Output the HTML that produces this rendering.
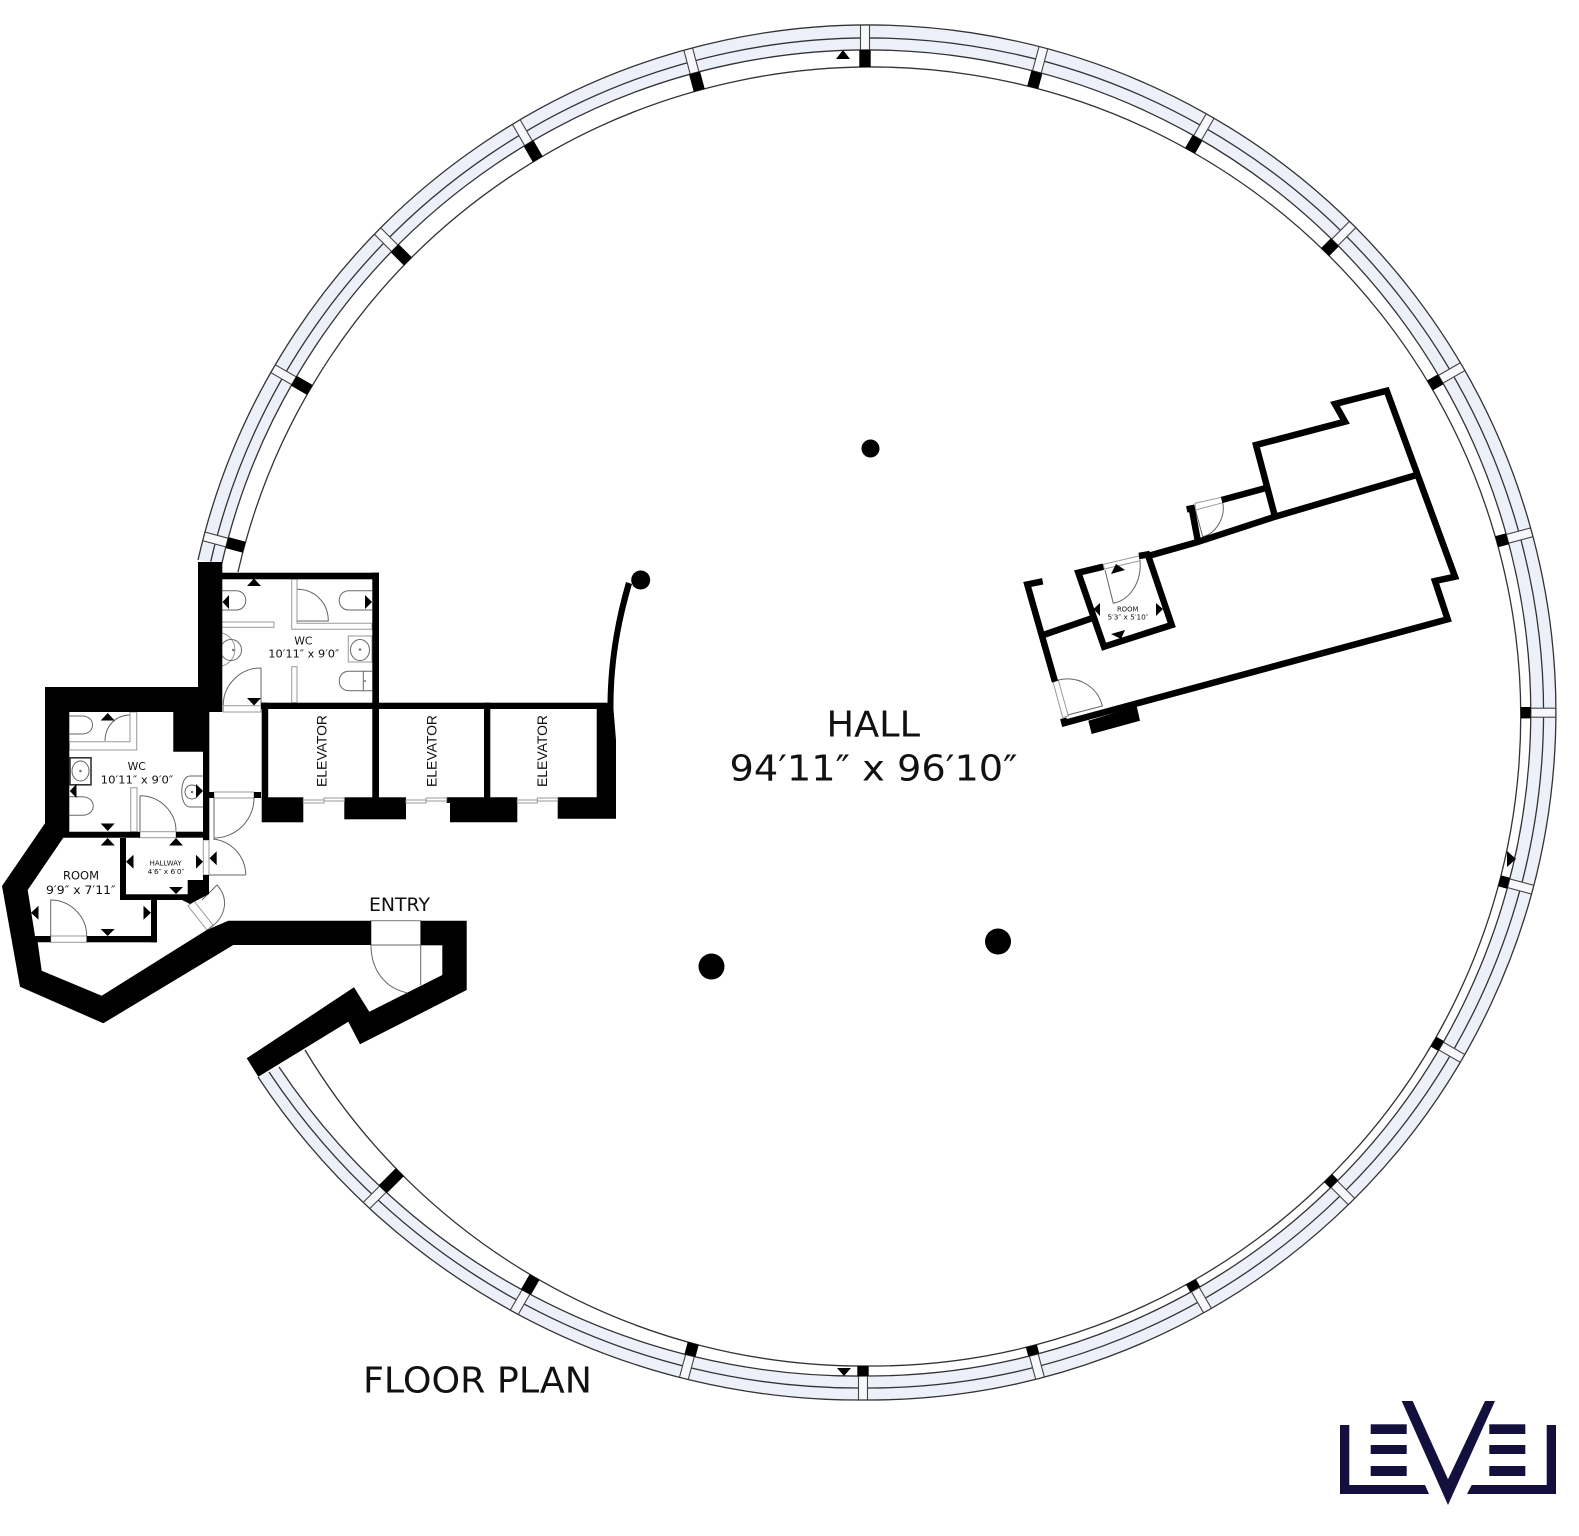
<!DOCTYPE html>
<html lang="en">
<head>
<meta charset="utf-8">
<title>Floor Plan</title>
<style>
html,body{margin:0;padding:0;background:#fff;}
svg{display:block;}
text{font-family:"DejaVu Sans","Liberation Sans",sans-serif;fill:#111;}
.el{font-family:"Liberation Sans",sans-serif;font-size:13.5px;}
.ln{fill:none;stroke:#333;stroke-width:1.3;}
.g{fill:#fff;stroke:#999;stroke-width:1;}
.gb{fill:#fff;stroke:#999;stroke-width:1;}
.d{fill:none;stroke:#666;stroke-width:1;}
.w{fill:none;stroke:#000;stroke-width:6.5;stroke-linejoin:miter;}
</style>
</head>
<body>
<svg xmlns="http://www.w3.org/2000/svg" width="1579" height="1536" viewBox="0 0 1579 1536">
<defs>
<clipPath id="ringClip"><path d="M198,560 A687.5,687.5 0 1 1 865,1400 A720,720 0 0 1 258,1077 L279,1067 A696,696 0 0 0 865,1376 A663,663 0 1 0 221.7,564 Z"/></clipPath>
<clipPath id="bandClip"><path d="M221.7,564 A663,663 0 1 1 865,1376 A696,696 0 0 1 279,1067 L305,1050 A650,650 0 0 0 865,1366 A649.5,649.5 0 1 0 238,572 Z"/></clipPath>
<rect id="win" x="-4.5" y="-60" width="9" height="70" fill="#f8f8fc" stroke="#444" stroke-width="1.1"/>
<rect id="pier" x="-5.7" y="-30" width="11.4" height="60" fill="#000"/>
</defs>
<rect width="1579" height="1536" fill="#fff"/>

<!-- ring -->
<path d="M198,560 A687.5,687.5 0 1 1 865,1400 A720,720 0 0 1 258,1077 L279,1067 A696,696 0 0 0 865,1376 A663,663 0 1 0 221.7,564 Z" fill="#eef0f9"/>
<path class="ln" d="M210.7,561.7 A675,675 0 1 1 865,1388 A708,708 0 0 1 269,1072"/>

<!-- windows -->
<g clip-path="url(#ringClip)">
<use href="#win" transform="translate(865 58)"/>
<use href="#win" transform="translate(697 82) rotate(-15)"/>
<use href="#win" transform="translate(1035 79) rotate(15)"/>
<use href="#win" transform="translate(1194 144) rotate(30)"/>
<use href="#win" transform="translate(1330.4 246.8) rotate(45)"/>
<use href="#win" transform="translate(1436 382) rotate(60)"/>
<use href="#win" transform="translate(1503 540) rotate(75)"/>
<use href="#win" transform="translate(1526 712.7) rotate(90)"/>
<use href="#win" transform="translate(1504 882) rotate(105)"/>
<use href="#win" transform="translate(1437.6 1044) rotate(120)"/>
<use href="#win" transform="translate(1331 1181) rotate(135)"/>
<use href="#win" transform="translate(1193 1285.5) rotate(150)"/>
<use href="#win" transform="translate(1033 1352) rotate(165)"/>
<use href="#win" transform="translate(863 1372) rotate(180)"/>
<use href="#win" transform="translate(692 1348) rotate(195)"/>
<use href="#win" transform="translate(530 1285) rotate(210)"/>
<use href="#win" transform="translate(390 1182) rotate(225)"/>
<use href="#win" transform="translate(236 545) rotate(-75)"/>
<use href="#win" transform="translate(303 386) rotate(-60)"/>
<use href="#win" transform="translate(402.5 256) rotate(-45)"/>
<use href="#win" transform="translate(533 151) rotate(-30)"/>
</g>

<path class="ln" d="M198,560 A687.5,687.5 0 1 1 865,1400 A720,720 0 0 1 258,1077"/>
<path class="ln" d="M221.7,564 A663,663 0 1 1 865,1376 A696,696 0 0 1 279,1067"/>
<path class="ln" d="M238,572 A649.5,649.5 0 1 1 865,1366 A650,650 0 0 1 305,1050"/>

<!-- piers -->
<g clip-path="url(#bandClip)">
<use href="#pier" transform="translate(865 58)"/>
<use href="#pier" transform="translate(697 82) rotate(-15)"/>
<use href="#pier" transform="translate(1035 79) rotate(15)"/>
<use href="#pier" transform="translate(1194 144) rotate(30)"/>
<use href="#pier" transform="translate(1330.4 246.8) rotate(45)"/>
<use href="#pier" transform="translate(1436 382) rotate(60)"/>
<use href="#pier" transform="translate(1503 540) rotate(75)"/>
<use href="#pier" transform="translate(1526 712.7) rotate(90)"/>
<use href="#pier" transform="translate(1504 882) rotate(105)"/>
<use href="#pier" transform="translate(1437.6 1044) rotate(120)"/>
<use href="#pier" transform="translate(1331 1181) rotate(135)"/>
<use href="#pier" transform="translate(1193 1285.5) rotate(150)"/>
<use href="#pier" transform="translate(1033 1352) rotate(165)"/>
<use href="#pier" transform="translate(863 1372) rotate(180)"/>
<use href="#pier" transform="translate(692 1348) rotate(195)"/>
<use href="#pier" transform="translate(530 1285) rotate(210)"/>
<use href="#pier" transform="translate(390 1182) rotate(225)"/>
<use href="#pier" transform="translate(236 545) rotate(-75)"/>
<use href="#pier" transform="translate(303 386) rotate(-60)"/>
<use href="#pier" transform="translate(402.5 256) rotate(-45)"/>
<use href="#pier" transform="translate(533 151) rotate(-30)"/>
</g>

<g fill="#000">
<polygon points="836,59 850,59 843,50"/>
<polygon points="837,1368 851,1368 844,1376"/>
<polygon points="1507,851 1516,859 1507,867"/>
</g>

<!-- fixtures: upper WC -->
<g>
<rect class="gb" x="220.3" y="622" width="53.7" height="5.3"/>
<path class="gb" d="M291.7,579 H297 V623.3 H372 V629.3 H291.7 Z"/>
<path class="d" d="M297,589.3 C315,589.3 328.3,603 328.3,621 H297"/>
<rect class="gb" x="291.7" y="666.7" width="5.3" height="36"/>
<path class="d" d="M222,590.7 H236 C249,590.7 249,610 236,610 H222"/>
<path class="d" d="M372,590.7 H349 C336,590.7 336,610 349,610 H372"/>
<path class="d" d="M372,671.3 H349 C336,671.3 336,690.7 349,690.7 H372 M363.3,671.3 V690.7"/>
<circle cx="365" cy="681" r="1" fill="#777"/>
<path class="g" d="M222,633 A17,17 0 0 1 222,666"/>
<circle cx="231" cy="650" r="10.5" class="d"/>
<circle cx="233.3" cy="650" r="1.3" fill="#777"/>
<rect class="g" x="348.3" y="636" width="23.7" height="26"/>
<ellipse cx="360" cy="650" rx="9.5" ry="10.5" class="d"/>
<circle cx="360" cy="649.5" r="1.3" fill="#777"/>
<path class="d" d="M261,668 V705 M261,668 C240,668 223.3,685 223.3,705"/>
<rect class="gb" x="223.3" y="705.7" width="37.7" height="6.3"/>
</g>

<!-- fixtures: lower WC -->
<g>
<path class="d" d="M69.3,716 H82 C96,716 96,734 82,734 H69.3"/>
<path class="gb" d="M130,712 H136.7 V750 H69.3 V741.7 H130 Z"/>
<path class="d" d="M105,741 C105,727 115,715 130,715"/>
<rect x="70" y="757.8" width="21" height="27" fill="#fff" stroke="#333" stroke-width="1.6"/>
<ellipse cx="80.5" cy="771" rx="8.5" ry="10" class="d"/>
<circle cx="80.5" cy="771" r="1.3" fill="#777"/>
<path class="d" d="M69.3,796.7 H82 C97,796.7 97,815.3 82,815.3 H69.3"/>
<rect class="gb" x="130.7" y="787.7" width="6.3" height="44"/>
<path class="d" d="M140,795.7 V831 M140,795.7 C160,795.7 176,812 176,831"/>
<rect class="gb" x="140" y="831.7" width="36" height="6"/>
<path class="d" d="M203,776 H190 C179,776 179,807 190,807 H203"/>
<circle cx="192" cy="792" r="7" class="d"/>
<circle cx="192" cy="792" r="1.3" fill="#777"/>
</g>

<!-- doors near hall -->
<g>
<rect class="gb" x="214" y="792" width="40" height="6"/>
<path class="d" d="M254,798 A40,40 0 0 1 214,838 M214,798 V838"/>
<rect class="gb" x="203.3" y="840" width="5.7" height="35"/>
<path class="d" d="M209,875 H245.7 M213,839 C231,841 245.7,856 245.7,875"/>
<polygon class="gb" points="188,906 194,901 213,925 207,930"/>
<path class="d" d="M202,900 L217,885 C228,897 228,915 210,928"/>
<!-- room door -->
<rect class="gb" x="50.7" y="936" width="36" height="6.3"/>
<path class="d" d="M50.7,936 V900 C70,900 86.7,916 86.7,936"/>
<!-- entry door -->
<rect x="371" y="920.7" width="49.7" height="24.3" fill="#fff" stroke="#777" stroke-width="1"/>
<path class="d" d="M371,945 H442 M420.7,945 V985 M371,945 C371,970 385,988 406.7,992.7"/>
</g>

<!-- walls -->
<g fill="#000">
<polygon points="198,562 222.3,562 222.3,712 209.3,712 209.3,840 203,840 203,751.7 173.3,751.7 173.3,712 69.3,712 69.3,831.7 140,831.7 140,837.7 63.3,837.7 27.7,890 35,936 50.7,936 50.7,942.3 37.7,942.3 41.7,970.7 101.7,995.7 206.7,930 228.3,920.7 371,920.7 371,945 233.3,945 103.3,1023.3 20,986.7 2,886 45,823.3 45,687 198,687"/>
<rect x="222" y="572.7" width="157" height="6.6"/>
<rect x="372.3" y="572.7" width="6.7" height="136"/>
<rect x="261" y="702.7" width="347" height="6.3"/>
<rect x="261.7" y="702.7" width="6.5" height="96"/>
<rect x="484" y="702.7" width="6.3" height="96"/>
<rect x="372.3" y="702.7" width="6.7" height="96"/>
<polygon points="596.7,703 613,703 616,740 616,818.7 557.7,818.7 557.7,797.3 596.7,797.3"/>
<path d="M607.5,704 C608,660 615,620 626,582 L632,584 C620,625 613,665 613.5,712 Z"/>
<circle cx="640.7" cy="580" r="9.5"/>
<rect x="261.7" y="797.3" width="41.6" height="25"/>
<rect x="344.3" y="797.3" width="61.7" height="22"/>
<polygon points="446.7,797.3 517.3,797.3 517.3,822.3 450,822.3 450,803 446.7,803"/>
<rect x="209" y="792" width="5" height="6"/>
<rect x="254" y="792" width="7" height="6"/>
<rect x="176" y="831.7" width="27" height="6"/>
<rect x="120" y="838" width="6" height="62"/>
<rect x="120" y="894.3" width="62" height="5.7"/>
<rect x="151" y="900" width="6" height="42.3"/>
<rect x="86.7" y="936" width="70.3" height="6.3"/>
<polygon points="187.7,894.3 187.7,880 203,880 203,875 209,875 209,894 190,904 182,900 182,894.3"/>
<polygon points="420.7,920.7 466.7,920.7 466.7,990 360,1044.3 348.3,1021.7 258.3,1076.7 246.7,1058.3 354,987.3 369.3,1011.7 442.3,975 442.3,945 420.7,945"/>
</g>

<!-- elevator doors -->
<g>
<rect class="gb" x="303.3" y="800" width="20.7" height="3"/><rect class="gb" x="324" y="798" width="20.3" height="3"/>
<rect class="gb" x="406" y="800" width="20" height="3"/><rect class="gb" x="426" y="798" width="20.7" height="3"/>
<rect class="gb" x="517.3" y="800" width="20" height="3"/><rect class="gb" x="537.3" y="798" width="20.4" height="3"/>
</g>

<!-- triangles left -->
<g fill="#000">
<polygon points="247,586 261,586 254,578.5"/>
<polygon points="229,595 229,609 222.5,602"/>
<polygon points="365,595 365,609 372,602"/>
<polygon points="247,698 261,698 254,705.5"/>
<polygon points="100.7,720.5 114.7,720.5 107.7,713"/>
<polygon points="76.5,784 76.5,798 69.8,791"/>
<polygon points="196,784 196,798 203,791"/>
<polygon points="100.7,823.5 114.7,823.5 107.7,831"/>
<polygon points="100.7,845.5 114.7,845.5 107.7,838"/>
<polygon points="169,845.5 183,845.5 176,838"/>
<polygon points="133.5,854.7 133.5,868.7 126,861.7"/>
<polygon points="196,854.7 196,868.7 203,861.7"/>
<polygon points="216.7,851.3 216.7,865.3 209.5,858.3"/>
<polygon points="169,887 183,887 176,894"/>
<polygon points="38.5,905.7 38.5,919.7 31,912.7"/>
<polygon points="143.5,905.7 143.5,919.7 151,912.7"/>
<polygon points="100.7,929 114.7,929 107.7,936"/>
</g>

<!-- right building -->
<g>
<polygon class="gb" points="1053,681.7 1058.3,680 1068.3,716 1062.7,717.5"/>
<path class="d" d="M1058.3,680 C1080,675 1098,688 1102.3,706 L1067.7,715"/>
<polygon class="gb" points="1103.3,564.3 1139,556 1140,560.7 1104.3,569"/>
<path class="d" d="M1105,570 L1113.3,603.3 C1130,600 1142,582 1140,560"/>
<polygon class="gb" points="1195,503.3 1221.7,497.3 1222.7,502.7 1195.7,510"/>
<path class="d" d="M1195.7,510.7 L1202.7,536.7 C1215,534 1226,518 1222.7,502.7"/>
<polyline class="w" points="1042.7,581.3 1027.3,584.5 1055,681.7"/>
<polyline class="w" points="1063.3,718.3 1064.5,723 1447.7,619.3 1435,581 1455,576.7 1386.7,390.7 1335,404 1345,421.7 1256,445 1275,516.7"/>
<polyline class="w" points="1416.7,475 1275,516.7 1196.7,542.3 1148.3,556 1171.7,625 1104,646.7 1078.3,572.7 1103.3,566.7"/>
<line class="w" x1="1139" y1="556" x2="1150" y2="554"/>
<line class="w" x1="1043.3" y1="635" x2="1091.7" y2="618.3"/>
<polyline class="w" points="1186.7,509.3 1191.7,508.3 1198.3,543.3"/>
<line class="w" x1="1221.7" y1="500" x2="1265" y2="488.3"/>
<polygon fill="#000" points="1088.3,720.7 1136.7,706 1140,720.7 1091.7,734"/>
<g fill="#000">
<polygon points="1111,574 1125,570 1116,564"/>
<polygon points="1100,603 1100,616 1093.5,609"/>
<polygon points="1156,603 1156,616 1163,609"/>
<polygon points="1111,634 1125,630 1121,639"/>
</g>
</g>

<!-- columns -->
<g fill="#000">
<circle cx="870.5" cy="448.5" r="9"/>
<circle cx="711.5" cy="966.5" r="13"/>
<circle cx="998" cy="941.5" r="13"/>
</g>

<!-- labels -->
<text x="826.5" y="736.7" font-size="35.7" textLength="93.5" lengthAdjust="spacingAndGlyphs">HALL</text>
<text x="729.5" y="780.7" font-size="35.7" textLength="288" lengthAdjust="spacingAndGlyphs">94′11″ x 96′10″</text>
<text x="363" y="1392.3" font-size="35.7" textLength="229" lengthAdjust="spacingAndGlyphs">FLOOR PLAN</text>
<text x="369" y="911" font-size="18.8" textLength="61" lengthAdjust="spacingAndGlyphs">ENTRY</text>

<text x="303.3" y="644.3" font-size="10.8" text-anchor="middle">WC</text>
<text x="268.3" y="657.7" font-size="10.8" textLength="71" lengthAdjust="spacingAndGlyphs">10′11″ x 9′0″</text>
<text x="136.7" y="770" font-size="10.8" text-anchor="middle">WC</text>
<text x="100.7" y="783.3" font-size="10.8" textLength="72.6" lengthAdjust="spacingAndGlyphs">10′11″ x 9′0″</text>
<text x="81" y="879.3" font-size="11.5" text-anchor="middle">ROOM</text>
<text x="46" y="894" font-size="11.5" textLength="69.7" lengthAdjust="spacingAndGlyphs">9′9″ x 7′11″</text>
<text x="149.7" y="865.7" font-size="6.8" textLength="32" lengthAdjust="spacingAndGlyphs">HALLWAY</text>
<text x="147.7" y="874" font-size="6.8" textLength="36.6" lengthAdjust="spacingAndGlyphs">4′6″ x 6′0″</text>
<text x="1127.7" y="611.5" font-size="6.8" text-anchor="middle">ROOM</text>
<text x="1107.5" y="619.5" font-size="6.8" textLength="41" lengthAdjust="spacingAndGlyphs">5′3″ x 5′10″</text>

<text class="el" transform="translate(326.5 787) rotate(-90)" textLength="72" lengthAdjust="spacingAndGlyphs">ELEVATOR</text>
<text class="el" transform="translate(436.5 787) rotate(-90)" textLength="72" lengthAdjust="spacingAndGlyphs">ELEVATOR</text>
<text class="el" transform="translate(547 787) rotate(-90)" textLength="72" lengthAdjust="spacingAndGlyphs">ELEVATOR</text>

<!-- logo -->
<g fill="#14103d">
<polygon points="1340,1425 1349.3,1425 1349.3,1485 1425,1485 1429,1494 1340,1494"/>
<rect x="1370.7" y="1424.3" width="36" height="9.7"/>
<rect x="1370.7" y="1445" width="36" height="9"/>
<rect x="1370.7" y="1466" width="36" height="10"/>
<polygon points="1401.7,1401 1412.7,1401 1448,1479.3 1485,1401 1495,1401 1448,1505"/>
<rect x="1489.3" y="1424.3" width="36" height="9.7"/>
<rect x="1489.3" y="1445" width="36" height="9"/>
<rect x="1489.3" y="1466" width="36" height="10"/>
<polygon points="1546.7,1425 1556,1425 1556,1494 1467,1494 1471.7,1485 1546.7,1485"/>
</g>
</svg>
</body>
</html>
